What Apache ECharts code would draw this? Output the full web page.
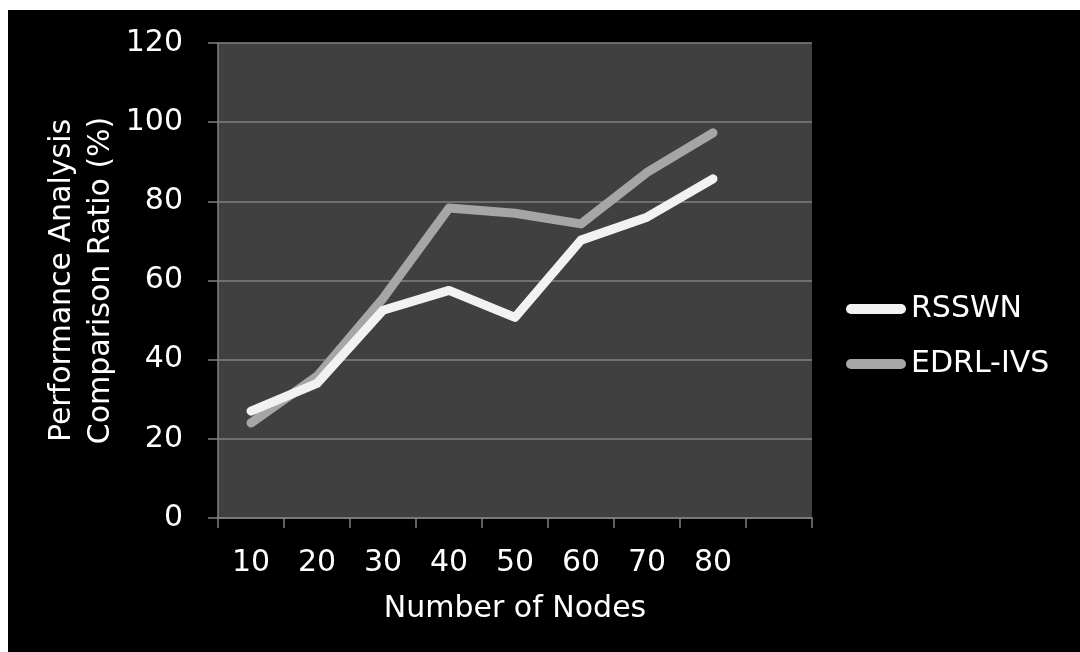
<!DOCTYPE html>
<html>
<head>
<meta charset="utf-8">
<script src="https://cdn.jsdelivr.net/npm/echarts@6/dist/echarts.min.js"></script>
<style>
  html, body { margin: 0; padding: 0; background: #ffffff; }
  #chart { position: absolute; left: 8px; top: 10px; width: 1072px; height: 642px; background: #000000; }
</style>
</head>
<body>
<div id="chart"></div>
<script>
// categories (last slot is empty, as in the original chart)
var nodes = ['10', '20', '30', '40', '50', '60', '70', '80', ''];
var rsswn = [27, 34, 52.5, 57.5, 50.7, 70.2, 76, 85.7];
var edrlIvs = [24, 35.8, 55.5, 78.3, 77, 74.3, 87.3, 97.3];
var yTicks = { min: 0, max: 120, interval: 20 };

var font = 'DejaVu Sans, Verdana, sans-serif';
var gridColor = '#808080';
var pill = 'path://M5,0 L55,0 A5,5 0 0 1 55,10 L5,10 A5,5 0 0 1 5,0 Z';

var myChart = echarts.init(document.getElementById('chart'));
var option = {
    backgroundColor: '#000000',
    animation: false,
    grid: {
        show: true,
        left: 210,
        top: 33,
        width: 594,
        height: 475,
        backgroundColor: '#404040',
        borderWidth: 0
    },
    legend: {
        orient: 'vertical',
        left: 833,
        top: 279,
        itemWidth: 60,
        itemHeight: 10,
        itemGap: 25,
        textStyle: { color: '#ffffff', fontSize: 30, fontFamily: font },
        data: [
            { name: 'RSSWN', icon: pill },
            { name: 'EDRL-IVS', icon: pill }
        ]
    },
    xAxis: {
        type: 'category',
        data: nodes,
        boundaryGap: true,
        name: 'Number of Nodes',
        nameLocation: 'middle',
        nameGap: 76,
        nameMoveOverlap: false,
        nameTextStyle: { color: '#ffffff', fontSize: 30, fontFamily: font },
        axisLine: { lineStyle: { color: gridColor, width: 1.5 } },
        axisTick: { show: true, interval: 0, length: 10, lineStyle: { color: gridColor, width: 1.5 } },
        axisLabel: { color: '#ffffff', fontSize: 30, fontFamily: font, margin: 30, interval: 0 },
        splitLine: { show: false }
    },
    yAxis: {
        type: 'value',
        min: yTicks.min,
        max: yTicks.max,
        interval: yTicks.interval,
        name: 'Performance Analysis\nComparison Ratio (%)',
        nameLocation: 'middle',
        nameGap: 97,
        nameRotate: 90,
        nameMoveOverlap: false,
        nameTextStyle: { color: '#ffffff', fontSize: 30, fontFamily: font, lineHeight: 39 },
        axisLine: { show: true, lineStyle: { color: gridColor, width: 1.5 } },
        axisTick: { show: true, length: 10, lineStyle: { color: gridColor, width: 1.5 } },
        axisLabel: { color: '#ffffff', fontSize: 30, fontFamily: font, margin: 35 },
        splitLine: { show: true, lineStyle: { color: gridColor, width: 1.5 } }
    },
    series: [
        {
            name: 'RSSWN',
            type: 'line',
            data: rsswn,
            showSymbol: false,
            color: '#f2f2f2',
            lineStyle: { width: 9, cap: 'round', join: 'round', color: '#f2f2f2' },
            z: 3
        },
        {
            name: 'EDRL-IVS',
            type: 'line',
            data: edrlIvs,
            showSymbol: false,
            color: '#a6a6a6',
            lineStyle: { width: 9, cap: 'round', join: 'round', color: '#a6a6a6' },
            z: 2
        }
    ]
};
myChart.setOption(option);
</script>
</body>
</html>
